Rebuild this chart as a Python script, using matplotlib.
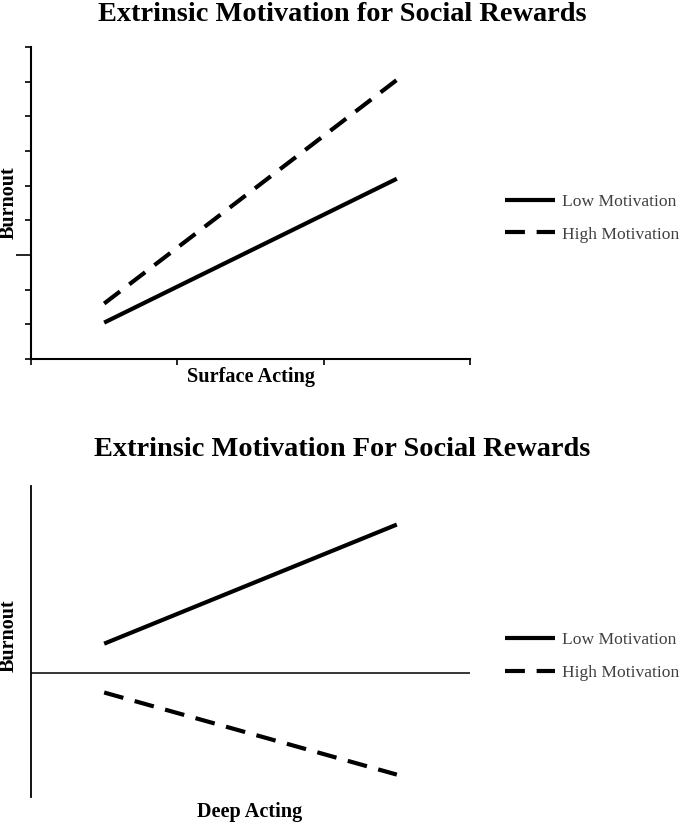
import matplotlib
matplotlib.use("Agg")
import matplotlib.pyplot as plt

# x positions (low / high of the predictor), in tick units
x_pts = [0.5, 2.5]

# top panel: Surface Acting (y in tick-index units, 0..9)
surface_low = [1.05, 5.2]
surface_high = [1.6, 8.05]

# bottom panel: Deep Acting (y around 0 line)
deep_low = [0.93, 4.76]
deep_high = [-0.64, -3.28]

titles = ["Extrinsic Motivation for Social Rewards",
          "Extrinsic Motivation For Social Rewards"]
xlabels = ["Surface Acting", "Deep Acting"]
legend_labels = ["Low Motivation", "High Motivation"]

plt.rcParams["font.family"] = ["Liberation Serif", "DejaVu Serif"]

fig = plt.figure(figsize=(6.85, 8.24), dpi=100)
W, H = 685, 824


def axes_px(x0, y0, x1, y1):
    return fig.add_axes([x0 / W, 1 - y1 / H, (x1 - x0) / W, (y1 - y0) / H])


LW = 3.0
DASH = (4.78, 2.81)

# ---- top panel
ax1 = axes_px(31, 47, 470, 359)
ax1.plot(x_pts, surface_low, color="black", lw=LW, solid_capstyle="butt",
         label=legend_labels[0])
ax1.plot(x_pts, surface_high, color="black", lw=LW, dashes=DASH,
         dash_capstyle="butt", label=legend_labels[1])
ax1.set_xlim(0, 3)
ax1.set_ylim(0, 9)
ax1.set_xticks([0, 1, 2, 3])
ax1.set_yticks(range(10))
ax1.set_xticklabels([])
ax1.set_yticklabels([])
for s in ["top", "right"]:
    ax1.spines[s].set_visible(False)
for s in ["left", "bottom"]:
    ax1.spines[s].set_linewidth(1.5)
ax1.tick_params(axis="both", direction="out", length=4.5, width=1.2)
# the tick at 3 is longer in the original
ax1.yaxis.get_major_ticks()[3].tick1line.set_markersize(11)

# ---- bottom panel
ax2 = axes_px(31, 486, 470, 797)
ax2.plot(x_pts, deep_low, color="black", lw=LW, solid_capstyle="butt",
         label=legend_labels[0])
ax2.plot(x_pts, deep_high, color="black", lw=LW, dashes=DASH,
         dash_capstyle="butt", label=legend_labels[1])
ax2.set_xlim(0, 3)
ax2.set_ylim(-4, 6)
ax2.set_xticks([])
ax2.set_yticks([])
for s in ["top", "right", "bottom"]:
    ax2.spines[s].set_visible(False)
ax2.spines["left"].set_linewidth(1.3)
ax2.axhline(0, color="black", lw=1.1)

# titles (centred on the figure), axis labels
fig.text(0.5, 1 - 21 / H, titles[0], ha="center", va="baseline",
         fontsize=20.4, fontweight="bold")
fig.text(0.5, 1 - 456 / H, titles[1], ha="center", va="baseline",
         fontsize=20.4, fontweight="bold")
fig.text(251 / W, 1 - 377 / H, xlabels[0], ha="center", va="center",
         fontsize=14.6, fontweight="bold")
fig.text(250 / W, 1 - 812 / H, xlabels[1], ha="center", va="center",
         fontsize=14.6, fontweight="bold")
for ycen in [203, 636]:
    fig.text(9 / W, 1 - ycen / H, "Burnout", rotation=90, ha="center",
             va="center", fontsize=14.5, fontweight="bold")

for ax, ymid in [(ax1, 218), (ax2, 656.5)]:
    ax.legend(loc="center left", bbox_to_anchor=(505 / W, 1 - ymid / H),
              bbox_transform=fig.transFigure, frameon=False, fontsize=12.6,
              handlelength=2.86, handletextpad=0.4, labelspacing=0.95,
              borderpad=0, borderaxespad=0, labelcolor="#404040")

fig.savefig("out.png", dpi=100)
